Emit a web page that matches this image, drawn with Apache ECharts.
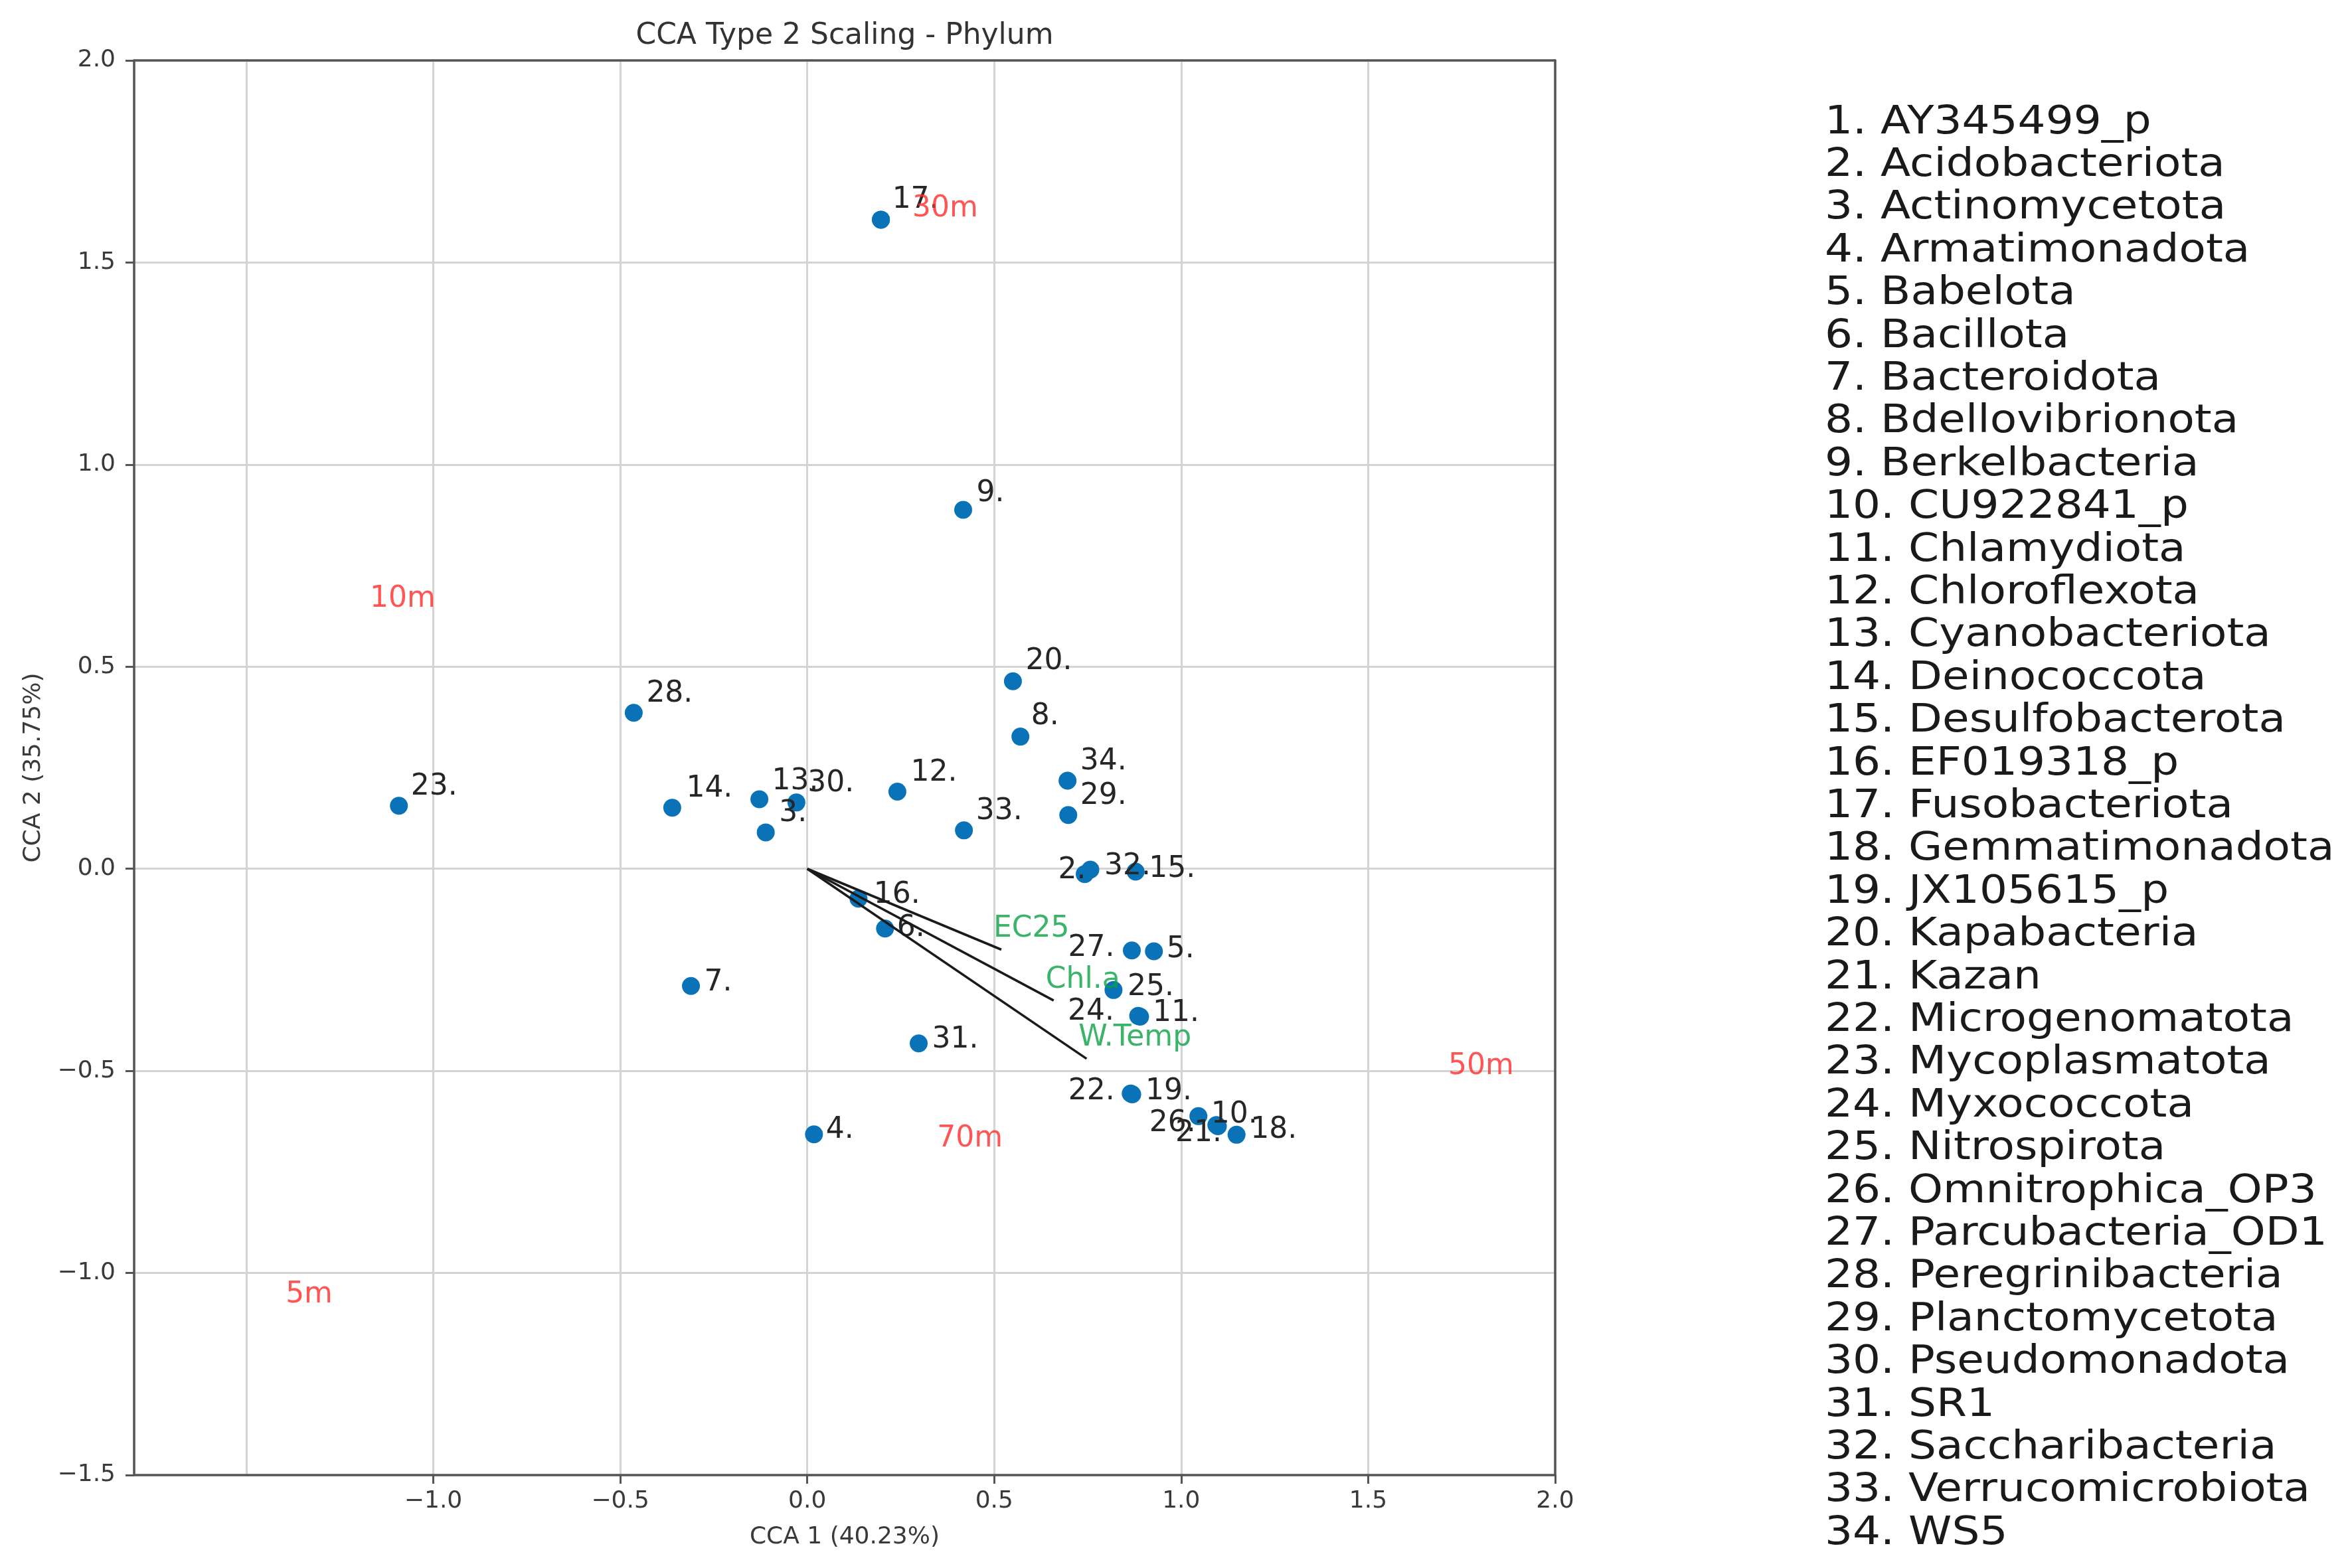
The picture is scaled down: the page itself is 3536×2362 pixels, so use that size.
<!DOCTYPE html>
<html><head><meta charset="utf-8">
<script src="https://cdn.jsdelivr.net/npm/echarts@6/dist/echarts.min.js"></script>
<style>html,body{margin:0;padding:0;background:#fff}#c{width:3536px;height:2362px}</style>
</head><body><div id="c"></div>
<script>
// ---------- data ----------
const phylumNames = ['AY345499_p','Acidobacteriota','Actinomycetota','Armatimonadota','Babelota','Bacillota','Bacteroidota','Bdellovibrionota','Berkelbacteria','CU922841_p','Chlamydiota','Chloroflexota','Cyanobacteriota','Deinococcota','Desulfobacterota','EF019318_p','Fusobacteriota','Gemmatimonadota','JX105615_p','Kapabacteria','Kazan','Microgenomatota','Mycoplasmatota','Myxococcota','Nitrospirota','Omnitrophica_OP3','Parcubacteria_OD1','Peregrinibacteria','Planctomycetota','Pseudomonadota','SR1','Saccharibacteria','Verrucomicrobiota','WS5'];
const cca1 = [0.197, 0.742, -0.111, 0.018, 0.927, 0.208, -0.311, 0.570, 0.417, 1.094, 0.890, 0.241, -0.128, -0.361, 0.878, 0.137, 0.197, 1.148, 0.869, 0.550, 1.098, 0.865, -1.092, 0.885, 0.819, 1.046, 0.868, -0.464, 0.698, -0.029, 0.298, 0.757, 0.419, 0.696];
const cca2 = [1.606, -0.013, 0.090, -0.657, -0.204, -0.148, -0.290, 0.327, 0.888, -0.634, -0.366, 0.191, 0.172, 0.151, -0.007, -0.074, 1.606, -0.658, -0.558, 0.464, -0.637, -0.556, 0.156, -0.364, -0.300, -0.612, -0.202, 0.386, 0.133, 0.164, -0.432, -0.002, 0.095, 0.218];
const envNames = ['EC25', 'Chl.a', 'W.Temp'];
const envCCA1 = [0.519, 0.659, 0.747];
const envCCA2 = [-0.200, -0.326, -0.470];
const siteNames = ['5m', '10m', '30m', '50m', '70m'];
const siteCCA1 = [-1.332, -1.082, 0.369, 1.802, 0.435];
const siteCCA2 = [-1.054, 0.667, 1.632, -0.490, -0.668];
const xTickValues = [-1.5, -1.0, -0.5, 0.0, 0.5, 1.0, 1.5, 2.0];
const yTickValues = [-1.5, -1.0, -0.5, 0.0, 0.5, 1.0, 1.5, 2.0];

// ---------- label placement (style: align, dx, dy in px from the dot centre) ----------
const labelPlace = [
  null, ['right',2,-5], ['left',20,-28], ['left',18,-6], ['left',19,-2], ['left',18,0], ['left',20,-5],
  ['left',16,-30], ['left',20,-24], ['left',-8,-15], ['left',19,-5], ['left',20,-28], ['left',19,-26],
  ['left',21,-28], ['left',20,-3], ['left',23,-5], ['left',17,-29], ['left',21,-7], ['left',20,-4],
  ['left',19,-30], ['right',6,11], ['right',-24,-3], ['left',18,-28], ['right',-36,-6], ['left',21,-4],
  ['right',-4,11], ['right',-26,-3], ['left',19,-28], ['left',18,-28], ['left',17,-28], ['left',20,-5],
  ['left',21,-4], ['left',18,-28], ['left',19,-28]
];

const FONT = '"DejaVu Sans", "Liberation Sans", sans-serif';
const DOT = 27;
const fmt = v => Number(v).toFixed(1).replace('-', '\u2212');

const phylaData = cca1.map((x, i) => {
  const p = labelPlace[i];
  const item = { value: [x, cca2[i]], name: phylumNames[i] };
  if (p) {
    item.label = { show: true, formatter: (i + 1) + '.', align: p[0], verticalAlign: 'middle',
      position: [DOT / 2 + p[1], DOT / 2 + p[2]] };
  } else {
    item.label = { show: false };
  }
  return item;
});

const envLineSeries = envNames.map((n, i) => ({
  type: 'line', name: n, data: [[0, 0], [envCCA1[i], envCCA2[i]]],
  showSymbol: false, symbol: 'none', z: 4, silent: true,
  lineStyle: { color: '#1a1a1a', width: 3.6 }
}));

const envLabelData = envNames.map((n, i) => ({
  value: [envCCA1[i], envCCA2[i]], name: n,
  label: { show: true, formatter: n, align: 'left', verticalAlign: 'middle', position: [1 - 12, 1 - 31] }
}));

const siteData = siteNames.map((n, i) => ({
  value: [siteCCA1[i], siteCCA2[i]], name: n,
  label: { show: true, formatter: n, align: 'center', verticalAlign: 'middle', position: [1, 1] }
}));

const axisCommon = {
  axisLine: { show: true, onZero: false, lineStyle: { color: '#555', width: 3.5 } },
  axisTick: { show: true, inside: false, length: 13, lineStyle: { color: '#555', width: 3 } },
  splitLine: { show: true, lineStyle: { color: '#d4d4d4', width: 3 } },
  nameTextStyle: { fontFamily: FONT, fontSize: 36, color: '#3a3a3a' }
};

const chart = echarts.init(document.getElementById('c'), null, { renderer: 'canvas' });
chart.setOption({
  backgroundColor: '#fff',
  animation: false,
  grid: { left: 202, top: 91, width: 2140, height: 2131, containLabel: false, outerBoundsMode: 'none' },
  xAxis: [
    Object.assign({}, axisCommon, {
      type: 'value', min: -1.8, max: 2.0, minInterval: 0.5, maxInterval: 0.5, splitNumber: 8,
      position: 'bottom',
      name: 'CCA 1 (40.23%)', nameLocation: 'middle', nameGap: 76,
      axisTick: Object.assign({}, axisCommon.axisTick, { customValues: xTickValues }),
      axisLabel: { customValues: xTickValues, showMinLabel: false, formatter: fmt, margin: 22,
        fontFamily: FONT, fontSize: 36, color: '#3a3a3a' }
    }),
    {
      type: 'value', min: -1.8, max: 2.0, position: 'top',
      axisLine: { show: true, onZero: false, lineStyle: { color: '#555', width: 3.5 } },
      axisTick: { show: false }, axisLabel: { show: false }, splitLine: { show: false }
    }
  ],
  yAxis: [
    Object.assign({}, axisCommon, {
      type: 'value', min: -1.5, max: 2.0, interval: 0.5, position: 'left',
      name: 'CCA 2 (35.75%)', nameLocation: 'middle', nameGap: 133,
      axisTick: Object.assign({}, axisCommon.axisTick, { customValues: yTickValues }),
      axisLabel: { customValues: yTickValues, formatter: fmt, margin: 28,
        fontFamily: FONT, fontSize: 36, color: '#3a3a3a' }
    }),
    {
      type: 'value', min: -1.5, max: 2.0, position: 'right',
      axisLine: { show: true, onZero: false, lineStyle: { color: '#555', width: 3.5 } },
      axisTick: { show: false }, axisLabel: { show: false }, splitLine: { show: false }
    }
  ],
  series: [
    {
      type: 'scatter', name: 'Phylum', data: phylaData, symbol: 'circle', symbolSize: DOT, z: 2,
      itemStyle: { color: '#0a73b7', opacity: 1 },
      label: { fontFamily: FONT, fontSize: 44, color: '#262626' },
      emphasis: { disabled: true }
    },
    ...envLineSeries,
    {
      type: 'scatter', name: 'Environment', data: envLabelData, symbolSize: 2, z: 5,
      itemStyle: { color: 'rgba(0,0,0,0)' },
      label: { fontFamily: FONT, fontSize: 44, color: '#0aa044' },
      emphasis: { disabled: true }
    },
    {
      type: 'scatter', name: 'Site', data: siteData, symbolSize: 2, z: 5,
      itemStyle: { color: 'rgba(0,0,0,0)' },
      label: { fontFamily: FONT, fontSize: 44, color: '#ff2a2a' },
      emphasis: { disabled: true }
    }
  ],
  graphic: [
    { type: 'text', x: 1272, y: 55, z: 10,
      style: { text: 'CCA Type 2 Scaling - Phylum', textAlign: 'center', textVerticalAlign: 'middle',
        fontFamily: FONT, fontSize: 44, fill: '#333' } },
    { type: 'text', x: 2748, y: 153, scaleX: 1.12, z: 10,
      style: { text: phylumNames.map((n, i) => (i + 1) + '. ' + n).join('\n'),
        textVerticalAlign: 'top', fontFamily: FONT, fontSize: 59, lineHeight: 64.4, fill: '#1a1a1a' } }
  ]
});
</script></body></html>
